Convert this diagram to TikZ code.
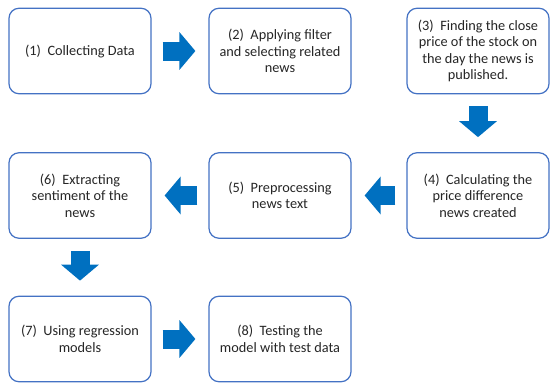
\documentclass[tikz,border=0pt]{standalone}
\usepackage{fontspec}
\setmainfont{Carlito}
\usetikzlibrary{arrows.meta}
\definecolor{boxblue}{HTML}{4472C4}
\definecolor{arrblue}{HTML}{0070C0}
\definecolor{txtgray}{HTML}{262626}
\tikzset{
  stepbox/.style={draw=boxblue,line width=1.2pt,rounded corners=10pt,fill=white,
    minimum width=142pt,minimum height=85.5pt,align=center,inner sep=2pt,
    text=txtgray,font=\fontsize{14.3}{16.5}\selectfont},
  blockarrow/.style={draw=arrblue,line width=19pt,
    -{Triangle[length=16pt,width=37pt,fill=arrblue]},shorten <=11pt,shorten >=13pt}
}
\begin{document}
\begin{tikzpicture}[x=1pt,y=1pt]
\pgfmathsetmacro{\kxa}{80}
\pgfmathsetmacro{\kxb}{280}
\pgfmathsetmacro{\kxc}{478}
\pgfmathsetmacro{\kya}{-51}
\pgfmathsetmacro{\kyb}{-195.5}
\pgfmathsetmacro{\kyc}{-339}
\useasboundingbox (0,0) rectangle (550,-383);
% steps
\node[stepbox](s1) at (\kxa,\kya){(1)~~Collecting Data};
\node[stepbox](s2) at (\kxb,\kya){(2)~~Applying filter\\and selecting related\\news};
\node[stepbox](s3) at (\kxc,\kya){(3)~~Finding the close\\price of the stock on\\the day the news is\\published.};
\node[stepbox](s4) at (\kxc,\kyb){(4)~~Calculating the\\price difference\\news created};
\node[stepbox](s5) at (\kxb,\kyb){(5)~~Preprocessing\\news text};
\node[stepbox](s6) at (\kxa,\kyb){(6)~~Extracting\\sentiment of the\\news};
\node[stepbox](s7) at (\kxa,\kyc){(7)~~Using regression\\models};
\node[stepbox](s8) at (\kxb,\kyc){(8)~~Testing the\\model with test data};
% arrows
\foreach \ka/\kb in {s1/s2,s4/s5,s5/s6,s7/s8}{\draw[blockarrow](\ka)--(\kb);}
\foreach \ka/\kb in {s3/s4,s6/s7}{\draw[blockarrow,shorten <=12pt,shorten >=15pt](\ka)--(\kb);}
\end{tikzpicture}
\end{document}
